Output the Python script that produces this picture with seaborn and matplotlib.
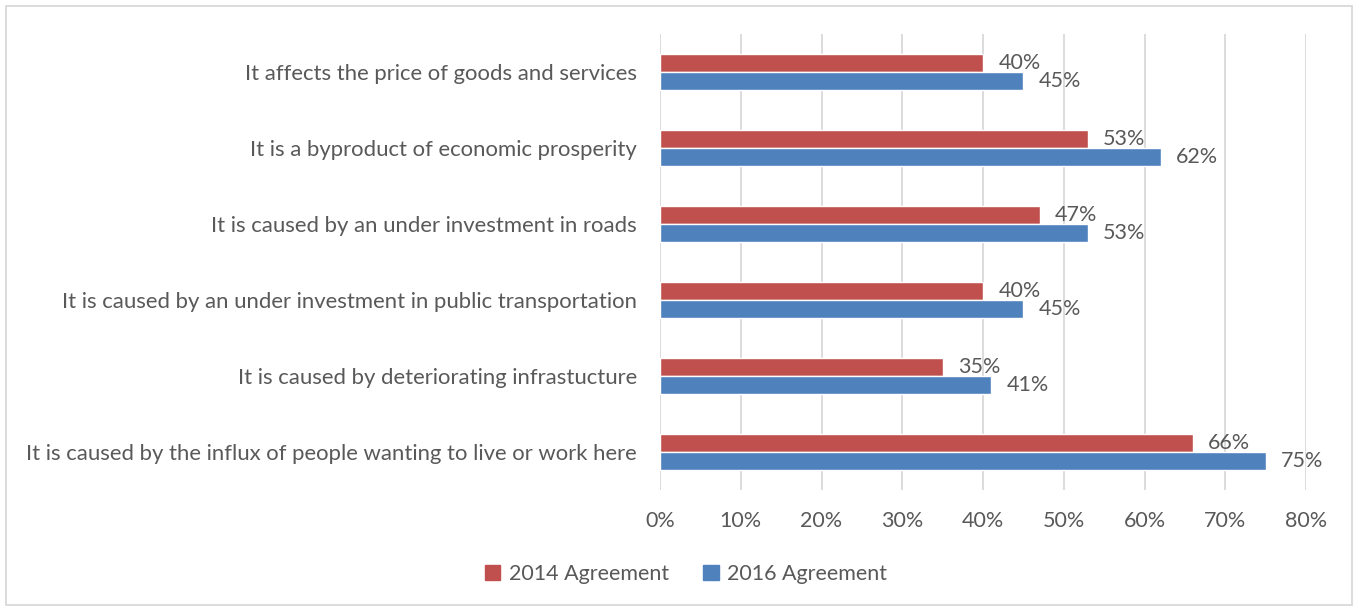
import matplotlib
matplotlib.use("Agg")
import matplotlib.pyplot as plt
import matplotlib.patches as mpatches
import seaborn as sns
import pandas as pd

categories = [
    "It affects the price of goods and services",
    "It is a byproduct of economic prosperity",
    "It is caused by an under investment in roads",
    "It is caused by an under investment in public transportation",
    "It is caused by deteriorating infrastucture",
    "It is caused by the influx of people wanting to live or work here",
]
agree_2014 = [40, 53, 47, 40, 35, 66]
agree_2016 = [45, 62, 53, 45, 41, 75]
series_names = ["2014 Agreement", "2016 Agreement"]
x_ticks = [0, 10, 20, 30, 40, 50, 60, 70, 80]

colors = ["#C0504D", "#4F81BD"]
text_color = "#595959"

df = pd.DataFrame({
    "category": categories * 2,
    "value": agree_2014 + agree_2016,
    "series": [series_names[0]] * len(categories) + [series_names[1]] * len(categories),
})

sns.set_theme(style="white")
plt.rcParams["font.family"] = ["Lato", "DejaVu Sans"]

fig = plt.figure(figsize=(13.59, 6.09), dpi=100)
ax = fig.add_axes([660 / 1359, 1 - 490 / 609, (1306 - 660) / 1359, (490 - 34) / 609])

sns.barplot(data=df, y="category", x="value", hue="series", order=categories,
            hue_order=series_names, palette=colors, orient="h", width=0.47,
            saturation=1, ax=ax, legend=False, zorder=3)

ax.set_xlim(0, 80)
ax.set_ylim(len(categories) - 0.5, -0.5)
ax.set_xticks(x_ticks)
ax.set_xticklabels([f"{t}%" for t in x_ticks])
ax.grid(axis="x", color="#D9D9D9", linewidth=1.3, zorder=0)
ax.grid(axis="y", visible=False)
for s in ax.spines.values():
    s.set_visible(False)
ax.set_xlabel("")
ax.set_ylabel("")
ax.tick_params(axis="x", labelsize=15.5, colors=text_color, length=0, pad=15)
ax.tick_params(axis="y", labelsize=15.9, colors=text_color, length=0, pad=16.5)

for container in ax.containers:
    ax.bar_label(container, labels=[f"{v:.0f}%" for v in container.datavalues],
                 padding=11, fontsize=15.5, color=text_color)

handles = [mpatches.Patch(color=c, label=n) for c, n in zip(colors, series_names)]
leg = fig.legend(handles=handles, loc="center", bbox_to_anchor=(686 / 1359, 1 - 574 / 609),
                 ncol=2, frameon=False, fontsize=15.5, handlelength=0.72, handleheight=0.72,
                 handletextpad=0.4, columnspacing=1.6, labelcolor=text_color)

border = mpatches.Rectangle((6 / 1359, 4 / 609), 1346 / 1359, 599 / 609, transform=fig.transFigure,
                            fill=False, edgecolor="#D9D9D9", linewidth=1.3)
fig.patches.append(border)

fig.savefig("out.png", dpi=100, facecolor="white")
